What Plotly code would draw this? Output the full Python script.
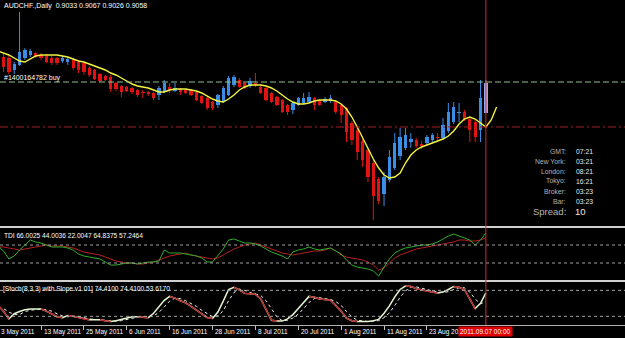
import plotly.graph_objects as go
import pandas as pd

# ---------------- data ----------------
dates = pd.bdate_range("2011-05-03", "2011-09-07")  # daily bars

open_ = [.940, .933, .932, .920, .925, .932, .935, .937, .935, .934, .932, .932, .929, .928, .930, .928,
         .927, .922, .920, .916, .914, .913, .907, .904, .903, .902, .900, .898, .898, .897, .895, .898,
         .903, .899, .901, .900, .900, .898, .894, .892, .888, .885, .888, .895, .905, .910, .907, .904,
         .907, .903, .902, .897, .893, .890, .885, .880, .885, .887, .888, .892, .890, .888, .889, .888,
         .885, .882, .867, .860, .849, .840, .827, .811, .796, .810, .822, .834, .842, .848, .850, .846,
         .847, .850, .853, .852, .859, .868, .877, .878, .871, .868, .860, .877]
high_ = [.942, .936, .934, .928, .978, .942, .941, .938, .937, .936, .934, .933, .934, .933, .932, .930,
         .929, .924, .921, .917, .915, .915, .908, .905, .904, .903, .901, .900, .899, .898, .904, .910,
         .907, .907, .902, .901, .901, .899, .895, .893, .889, .896, .904, .914, .915, .912, .908, .912,
         .917, .904, .903, .898, .894, .891, .886, .888, .893, .897, .898, .893, .891, .893, .895, .889,
         .886, .883, .869, .862, .851, .842, .830, .813, .818, .840, .857, .862, .862, .857, .852, .849,
         .855, .857, .857, .872, .887, .888, .887, .880, .873, .870, .910, .910]
low_ = [.932, .918, .916, .916, .924, .930, .933, .932, .930, .927, .925, .925, .927, .925, .920, .917,
        .915, .913, .910, .908, .909, .898, .899, .893, .898, .896, .893, .892, .894, .890, .890, .897,
        .897, .898, .895, .896, .894, .889, .886, .880, .880, .882, .887, .894, .903, .902, .901, .902,
        .903, .896, .889, .887, .884, .877, .875, .876, .884, .886, .887, .880, .884, .887, .887, .876,
        .867, .848, .845, .830, .823, .808, .770, .786, .784, .808, .820, .830, .840, .842, .842, .841,
        .845, .848, .849, .850, .857, .866, .868, .869, .848, .848, .848, .877]
close_ = [.934, .923, .918, .926, .938, .940, .939, .933, .932, .928, .927, .927, .932, .931, .922, .920,
          .918, .915, .911, .909, .910, .901, .901, .898, .899, .898, .895, .897, .896, .892, .902, .907,
          .900, .902, .898, .897, .895, .890, .887, .882, .882, .895, .902, .912, .913, .903, .902, .909,
          .905, .897, .890, .888, .885, .878, .878, .887, .892, .892, .893, .885, .885, .891, .892, .878,
          .875, .858, .850, .838, .830, .813, .794, .789, .813, .833, .847, .853, .855, .851, .844, .844,
          .853, .855, .852, .865, .878, .883, .878, .871, .860, .853, .892, .907]

# shifted moving average (extends two bars past the last candle)
ma_line = [.939, .937, .935, .932, .929, .928, .931, .934, .935, .935, .935, .935, .934, .933, .931, .929,
           .928, .926, .924, .922, .920, .917, .915, .912, .909, .906, .904, .903, .902, .900, .898, .898,
           .900, .901, .901, .901, .900, .899, .897, .894, .891, .889, .888, .891, .895, .900, .903, .905,
           .905, .905, .904, .902, .899, .895, .891, .888, .886, .886, .887, .889, .890, .890, .890, .889,
           .886, .881, .873, .863, .852, .841, .831, .822, .815, .812, .813, .817, .827, .835, .840, .843,
           .845, .847, .849, .851, .854, .859, .866, .871, .873, .871, .867, .863, .870, .883]

order_price = 0.908
stop_price = 0.863

tdi_price = [67, 62, 54, 57, 63, 68, 73, 71, 70, 68, 66, 66, 66, 65, 63, 59, 57, 56, 55, 54, 51, 48, 48, 49,
             50, 50, 49, 50, 51, 51, 52, 63, 60, 60, 60, 59, 58, 57, 55, 51, 51, 57, 64, 73, 74, 72, 70, 70,
             69, 67, 64, 61, 59, 57, 54, 61, 63, 64, 66, 64, 63, 64, 65, 62, 59, 53, 48, 46, 45, 44, 42, 37,
             46, 54, 60, 63, 65, 66, 67, 68, 68, 69, 71, 74, 77, 79, 77, 75, 73, 68, 73, 80]
tdi_signal = [66, 66, 65, 64, 63, 64, 65, 66, 67, 68, 67, 67, 67, 66, 65, 63, 61, 60, 59, 58, 56, 54, 52, 51,
              50, 50, 49, 49, 50, 51, 53, 55, 57, 58, 59, 60, 58, 57, 56, 55, 54, 55, 58, 61, 64, 66, 68, 69,
              70, 68, 66, 64, 62, 60, 59, 58, 59, 60, 61, 62, 62, 63, 65, 62, 58, 56, 55, 54, 53, 51, 48, 43,
              45, 50, 55, 58, 60, 62, 64, 65, 66, 67, 68, 69, 70, 71, 73, 73, 72, 72, 73, 75]
tdi_levels = [68, 50]

stoch_main = [45, 32, 14, 26, 31, 35, 37, 37, 37, 32, 26, 19, 17, 22, 20, 17, 14, 12, 12, 12, 10, 8, 10, 13,
              17, 19, 19, 18, 17, 27, 43, 57, 66, 62, 56, 51, 43, 35, 25, 17, 15, 30, 55, 82, 87, 81, 73, 72,
              71, 60, 36, 11, 9, 9, 14, 24, 38, 52, 66, 64, 60, 59, 57, 45, 32, 16, 10, 8, 8, 8, 10, 13,
              27, 44, 65, 82, 90, 89, 84, 81, 78, 76, 74, 76, 82, 89, 87, 82, 60, 38, 50, 74]
stoch_signal = [40, 38, 30, 24, 24, 31, 34, 36, 37, 35, 32, 26, 21, 19, 20, 20, 17, 14, 13, 12, 11, 10, 9, 10,
                13, 16, 18, 19, 18, 21, 29, 42, 55, 62, 61, 56, 50, 43, 34, 26, 19, 21, 33, 56, 75, 83, 80, 75,
                72, 68, 56, 36, 19, 10, 11, 16, 25, 38, 52, 61, 63, 61, 59, 54, 45, 31, 19, 11, 9, 8, 9, 10,
                17, 28, 45, 64, 79, 87, 88, 85, 81, 78, 76, 75, 77, 82, 86, 86, 76, 60, 49, 54]
stoch_levels = [80, 20]

tick_dates = ["2011-05-03", "2011-05-13", "2011-05-25", "2011-06-06", "2011-06-16", "2011-06-28",
              "2011-07-08", "2011-07-20", "2011-08-01", "2011-08-11", "2011-08-23"]
tick_labels = ["3 May 2011", "13 May 2011", "25 May 2011", "6 Jun 2011", "16 Jun 2011", "28 Jun 2011",
               "8 Jul 2011", "20 Jul 2011", "1 Aug 2011", "11 Aug 2011", "23 Aug 2011"]
current_label = "2011.09.07 00:00"

title_text = "AUDCHF.,Daily  0.9033 0.9067 0.9026 0.9058"
order_text = "#1400164782 buy"
tdi_text = "TDI 66.0025 44.0036 22.0047 64.8375 57.2464"
stoch_text = "[Stoch(8,3,3) with Slope v1.01] 74.4100 74.4100 53.6170"
clock_labels = ["GMT:", "New York:", "London:", "Tokyo:", "Broker:", "Bar:"]
clock_values = ["07:21", "03:21", "08:21", "16:21", "03:23", "03:23"]
spread_value = "10"

# ---------------- styling / layout helpers ----------------
W, H, B = 625, 338, 13
PH = H - B
FONT = "Liberation Sans, Arial, sans-serif"
BULL, BEAR, CUR = "#3a8ee6", "#e01414", "#a4a4e6"
SPACING = 5.36                 # px per bar
FIRST_PX = 41 - 8 * SPACING    # pixel of first bar


def py(pix):
    return 1 - pix / PH


def px(pix):
    return pix / W


n = len(dates)
idx = list(range(n))
date_pos = {d.strftime("%Y-%m-%d"): i for i, d in enumerate(dates)}
x0 = -FIRST_PX / SPACING
x1 = (W - FIRST_PX) / SPACING

fig = go.Figure()

# candle bodies
colors = []
for i in idx:
    if i == n - 1:
        colors.append(CUR)
    elif close_[i] >= open_[i]:
        colors.append(BULL)
    else:
        colors.append(BEAR)
bases = [min(o, c) for o, c in zip(open_, close_)]
heights = [max(abs(c - o), 0.0009) for o, c in zip(open_, close_)]

# wicks by colour
for col in (BULL, BEAR, CUR):
    wx, wy = [], []
    for i in idx:
        if colors[i] == col:
            wx += [i, i, None]
            wy += [high_[i], low_[i], None]
    fig.add_trace(go.Scatter(x=wx, y=wy, mode="lines", line=dict(color=col, width=1),
                             hoverinfo="skip", showlegend=False, yaxis="y"))

fig.add_trace(go.Bar(x=idx, y=heights, base=bases, marker=dict(color=colors, line=dict(width=0)),
                     width=0.62, showlegend=False, yaxis="y", hoverinfo="skip"))

fig.add_trace(go.Scatter(x=list(range(len(ma_line))), y=ma_line, mode="lines",
                         line=dict(color="#f4f442", width=1.4), showlegend=False, yaxis="y"))

# TDI
fig.add_trace(go.Scatter(x=idx, y=tdi_signal, mode="lines", line=dict(color="#b42020", width=1),
                         showlegend=False, yaxis="y2"))
fig.add_trace(go.Scatter(x=idx, y=tdi_price, mode="lines", line=dict(color="#2fae2f", width=1),
                         showlegend=False, yaxis="y2"))

# Stochastic
fig.add_trace(go.Scatter(x=idx, y=stoch_signal, mode="lines",
                         line=dict(color="#f0f0f0", width=1, dash="dot"), showlegend=False, yaxis="y3"))
fig.add_trace(go.Scatter(x=idx, y=stoch_main, mode="lines", line=dict(color="#e6f6d2", width=1.5),
                         showlegend=False, yaxis="y3"))
rx, ry = [], []
for i in range(n - 1):
    if stoch_main[i + 1] < stoch_main[i]:
        rx += [i, i + 1, None]
        ry += [stoch_main[i], stoch_main[i + 1], None]
fig.add_trace(go.Scatter(x=rx, y=ry, mode="lines", line=dict(color="#b42828", width=1.5),
                         showlegend=False, yaxis="y3"))

shapes = []
# order / stop lines
shapes.append(dict(type="line", xref="paper", x0=0, x1=1, yref="y", y0=order_price, y1=order_price,
                   line=dict(color="#8fc08f", width=1, dash="6px,3px")))
shapes.append(dict(type="line", xref="paper", x0=0, x1=1, yref="y", y0=stop_price, y1=stop_price,
                   line=dict(color="#a82020", width=1, dash="8px,3px,2px,3px")))
for lv in tdi_levels:
    shapes.append(dict(type="line", xref="paper", x0=0, x1=1, yref="y2", y0=lv, y1=lv,
                       line=dict(color="#a0a0a0", width=1, dash="3px,3px")))
for lv in stoch_levels:
    shapes.append(dict(type="line", xref="paper", x0=0, x1=1, yref="y3", y0=lv, y1=lv,
                       line=dict(color="#a0a0a0", width=1, dash="3px,3px")))
# panel separators
for pix in (227, 281):
    shapes.append(dict(type="line", xref="paper", x0=0, x1=1, yref="paper", y0=py(pix), y1=py(pix),
                       line=dict(color="#d0d0d0", width=2)))
shapes.append(dict(type="line", xref="paper", x0=0, x1=1, yref="paper", y0=py(325.5), y1=py(325.5),
                   line=dict(color="#b0b0b0", width=1)))
# current-bar vertical line
shapes.append(dict(type="line", xref="x", x0=n - 1, x1=n - 1, yref="paper", y0=0, y1=1,
                   line=dict(color="#c83232", width=1)))

ann = []
small = dict(family=FONT, size=7, color="#ffffff")
ann.append(dict(text=title_text, xref="paper", yref="paper", x=px(2), y=py(5.5), xanchor="left",
                yanchor="middle", showarrow=False, font=small))
ann.append(dict(text=order_text, xref="paper", yref="paper", x=px(1.5), y=py(77.5), xanchor="left",
                yanchor="middle", showarrow=False, font=small))
ann.append(dict(text=tdi_text, xref="paper", yref="paper", x=px(2), y=py(235), xanchor="left",
                yanchor="middle", showarrow=False, font=dict(family=FONT, size=6.6, color="#ffffff")))
ann.append(dict(text=stoch_text, xref="paper", yref="paper", x=px(1), y=py(288.5), xanchor="left",
                yanchor="middle", showarrow=False, font=dict(family=FONT, size=6.6, color="#ffffff")))
rows = [151.5, 161.5, 171, 181, 191, 201]
for lab, val, r in zip(clock_labels, clock_values, rows):
    ann.append(dict(text=lab, xref="paper", yref="paper", x=px(568), y=py(r), xanchor="right",
                    yanchor="middle", showarrow=False, font=dict(family=FONT, size=6.8, color="#b4b4b4")))
    ann.append(dict(text=val, xref="paper", yref="paper", x=px(574), y=py(r), xanchor="left",
                    yanchor="middle", showarrow=False, font=dict(family=FONT, size=6.8, color="#e8e8e8")))
ann.append(dict(text="Spread:", xref="paper", yref="paper", x=px(568), y=py(211), xanchor="right",
                yanchor="middle", showarrow=False, font=dict(family=FONT, size=9.5, color="#b4b4b4")))
ann.append(dict(text=spread_value, xref="paper", yref="paper", x=px(573), y=py(211), xanchor="left",
                yanchor="middle", showarrow=False, font=dict(family=FONT, size=9.5, color="#e8e8e8")))

tick_pos = []
for d, lab in zip(tick_dates, tick_labels):
    pos = date_pos[d]
    tick_pos.append(pos)
    anchor_x = max(pos, x0 + 0.05)          # keep anchor inside the axis range
    shift = (pos - anchor_x) * SPACING + 0.5
    ann.append(dict(text=lab, xref="x", yref="paper", x=anchor_x, y=py(331.5), xanchor="left",
                    xshift=shift, yanchor="middle", showarrow=False,
                    font=dict(family=FONT, size=6.5, color="#ffffff")))
ann.append(dict(text=current_label, xref="x", yref="paper", x=n - 1, y=py(331.5), xanchor="center",
                yanchor="middle", showarrow=False, bgcolor="#e00000", borderpad=1,
                font=dict(family=FONT, size=6.5, color="#ffffff")))

fig.update_layout(
    width=W, height=H, autosize=False,
    margin=dict(l=0, r=0, t=0, b=B, pad=0),
    paper_bgcolor="#000000", plot_bgcolor="#000000",
    showlegend=False, bargap=0, hovermode=False,
    xaxis=dict(range=[x0, x1], showgrid=False, zeroline=False, showticklabels=False,
               tickmode="array", tickvals=tick_pos, ticks="outside", ticklen=4, tickcolor="#c0c0c0",
               anchor="y3", showline=False, fixedrange=True),
    yaxis=dict(domain=[py(226), 1], range=[0.990 - 0.226, 0.990], showgrid=False, zeroline=False,
               showticklabels=False, fixedrange=True),
    yaxis2=dict(domain=[py(280), py(228)], range=[33, 85], showgrid=False, zeroline=False,
                showticklabels=False, fixedrange=True),
    yaxis3=dict(domain=[0, py(282)], range=[0, 99.3], showgrid=False, zeroline=False,
                showticklabels=False, fixedrange=True),
    shapes=shapes, annotations=ann,
)

fig.write_html("out.html", config={"displayModeBar": False, "staticPlot": True})
